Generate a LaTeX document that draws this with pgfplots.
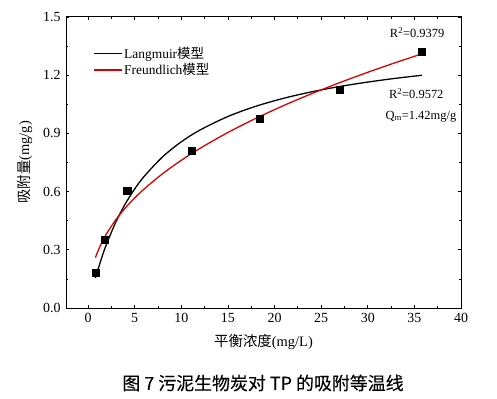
\documentclass[border=0pt]{standalone}
\usepackage{pgfplots}
\pgfplotsset{compat=1.18}
\usepackage{fontspec}
\setmainfont{Liberation Serif}
\newfontfamily\cjk{Noto Sans CJK SC}
\newfontfamily\cjkcap[FakeBold=0.2]{Noto Sans CJK SC}
\begin{document}
\begin{tikzpicture}[x=1bp,y=1bp]
\path[use as bounding box] (0,0) rectangle (497,398);
\begin{axis}[
  at={(66bp,90bp)}, anchor=south west,
  scale only axis, width=395bp, height=291bp,
  xmin=-2.36, xmax=40, ymin=0, ymax=1.5,
  xtick={0,5,...,40}, ytick={0,0.3,...,1.5},
  minor x tick num=1, minor y tick num=1,
  tick align=inside, major tick length=3bp, minor tick length=2bp,
  xticklabel={\pgfmathprintnumber[assume math mode=true]{\tick}},
  yticklabel={\pgfmathprintnumber[assume math mode=true,fixed,fixed zerofill,precision=1]{\tick}},
  tick label style={font=\rmfamily\fontsize{14}{16}\selectfont},
  xticklabel style={yshift=-2bp},
  yticklabel style={xshift=-2bp},
  axis line style={line width=1pt},
  every tick/.style={black, line width=0.7pt},
  xlabel={{\cjk 平衡浓度}(mg/L)},
  ylabel={{\cjk 吸附量}(mg/g)},
  label style={font=\rmfamily\fontsize{14.5}{16}\selectfont},
  xlabel style={yshift=-5bp},
  ylabel style={yshift=4bp},
  legend style={draw=none, fill=none, at={(0.06,0.912)}, anchor=north west,
    font=\rmfamily\fontsize{13.5}{15}\selectfont, row sep=0bp,
    legend cell align=left},
  legend image code/.code={\draw[#1] (0bp,0bp) -- (28bp,0bp);},
  legend entries={{Langmuir{\cjk 模型}},{Freundlich{\cjk 模型}}},
  clip=false,
]
\addplot[black, line width=1.3pt, smooth] coordinates {
(0.8,0.154) (1,0.1874) (1.5,0.2637) (2,0.3310) (3,0.4447) (4,0.5369) (5,0.6132)
(6,0.6773) (8,0.7792) (10,0.8565) (12,0.9172) (15,0.9871) (18,1.0399) (21,1.0813)
(24,1.1145) (27,1.1418) (30,1.1646) (33,1.1840) (35.8,1.1996)};
\addplot[red!85!black, line width=1.3pt, smooth] coordinates {
(0.8,0.2599) (1,0.2858) (1.5,0.3396) (2,0.3839) (3,0.4561) (4,0.5155) (5,0.5669)
(6,0.6126) (8,0.6923) (10,0.7613) (12,0.8227) (15,0.9047) (18,0.9776) (21,1.0439)
(24,1.1050) (27,1.1617) (30,1.2150) (33,1.2653) (35.8,1.3099)};
\addplot[only marks, mark=square*, mark size=3.6bp, black, forget plot] coordinates {
(0.82,0.18) (1.75,0.353) (4.2,0.603) (11.1,0.809) (18.4,0.977) (27.0,1.125) (35.8,1.322)};
\node[font=\fontsize{12.5}{14}\selectfont] at (axis cs:35.3,1.42) {R\textsuperscript{2}=0.9379};
\node[font=\fontsize{12.5}{14}\selectfont] at (axis cs:35.2,1.106) {R\textsuperscript{2}=0.9572};
\node[font=\fontsize{12.5}{14}\selectfont] at (axis cs:35.7,0.988) {Q\textsubscript{m}=1.42mg/g};
\end{axis}
\node[font=\cjkcap\fontsize{18}{20}\selectfont] at (263,15) {图 7 污泥生物炭对 TP 的吸附等温线};
\end{tikzpicture}
\end{document}
